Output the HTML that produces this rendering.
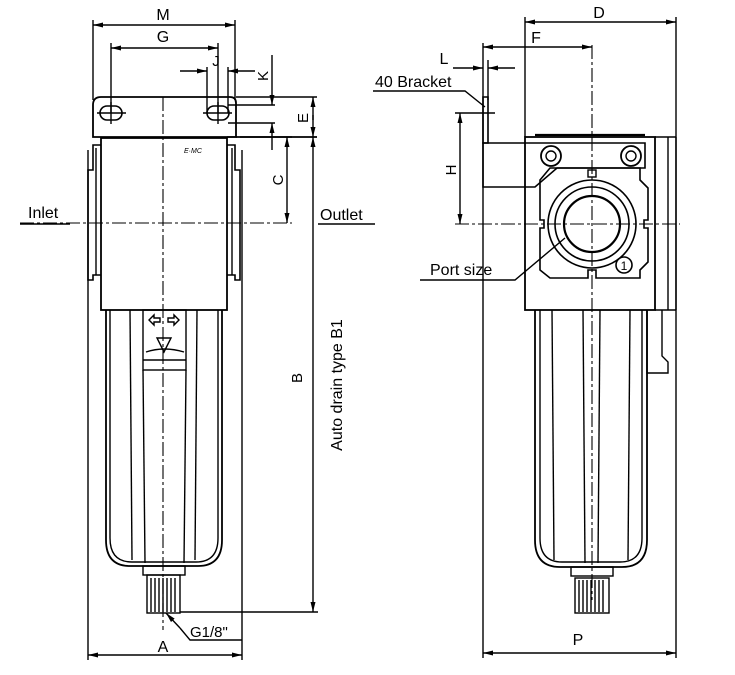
<!DOCTYPE html>
<html><head><meta charset="utf-8"><style>
html,body{margin:0;padding:0;background:#fff;}
svg{display:block}
text{font-family:"Liberation Sans",Arial,sans-serif;fill:#000}
</style></head><body>
<svg width="735" height="675" viewBox="0 0 735 675" xmlns="http://www.w3.org/2000/svg">
<defs>
<marker id="a" viewBox="0 0 10 6" refX="10" refY="3" markerWidth="10" markerHeight="6" orient="auto-start-reverse" markerUnits="userSpaceOnUse"><path d="M0,0.5 L10,3 L0,5.5 z" fill="#000"/></marker>
</defs>
<g stroke="#000" fill="none" stroke-width="1.4">
<!-- ===== LEFT VIEW ===== -->
<line x1="93" y1="20" x2="93" y2="100"/><line x1="235" y1="20" x2="235" y2="100"/>
<line x1="93" y1="25" x2="235" y2="25" marker-start="url(#a)" marker-end="url(#a)"/>
<line x1="111" y1="43" x2="111" y2="113"/><line x1="218" y1="43" x2="218" y2="113"/>
<line x1="111" y1="48" x2="218" y2="48" marker-start="url(#a)" marker-end="url(#a)"/>
<line x1="207" y1="67" x2="207" y2="113"/><line x1="228" y1="67" x2="228" y2="113"/>
<line x1="180" y1="71" x2="207" y2="71" marker-end="url(#a)"/>
<line x1="255" y1="71" x2="228" y2="71" marker-end="url(#a)"/>
<line x1="272" y1="55" x2="272" y2="105" marker-end="url(#a)"/>
<line x1="272" y1="150" x2="272" y2="123" marker-end="url(#a)"/>
<line x1="228" y1="105" x2="275" y2="105"/><line x1="228" y1="123" x2="275" y2="123"/>
<path d="M101,97 H230 Q236,97 236,103 V137 H93 V105 Q93,97 101,97 Z" stroke-width="1.8"/>
<rect x="100" y="106" width="22" height="14" rx="7" stroke-width="1.6"/>
<rect x="207" y="106" width="22" height="14" rx="7" stroke-width="1.6"/>
<line x1="111" y1="102" x2="111" y2="124"/><line x1="97" y1="113" x2="126" y2="113"/>
<line x1="218" y1="102" x2="218" y2="124"/><line x1="203" y1="113" x2="232" y2="113"/>
<line x1="236" y1="97" x2="317" y2="97"/><line x1="236" y1="137" x2="317" y2="137"/>
<line x1="313" y1="120" x2="313" y2="97" marker-end="url(#a)"/>
<line x1="313" y1="115" x2="313" y2="137" marker-end="url(#a)"/>
<rect x="101" y="138" width="126" height="172" stroke-width="1.8"/>
<path d="M101,145 H93 V170 H88 V280 H93 V275 H101" stroke-width="1.6"/>
<path d="M227,145 H235 V170 H240 V280 H235 V275 H227" stroke-width="1.6"/>
<line x1="96" y1="148" x2="96" y2="275"/><line x1="232" y1="148" x2="232" y2="275"/>
<line x1="240" y1="137" x2="292" y2="137"/>
<line x1="287" y1="137" x2="287" y2="223" marker-start="url(#a)" marker-end="url(#a)"/>
<line x1="20" y1="223" x2="292" y2="223" stroke-dasharray="14,3,3,3" stroke-width="1.1"/>
<line x1="163" y1="97" x2="163" y2="630" stroke-dasharray="14,3,3,3" stroke-width="1.1"/>
<line x1="20" y1="224" x2="70" y2="224"/><line x1="318" y1="224" x2="375" y2="224"/>
<path d="M106,310 V540 Q106,566 130,566 H198 Q222,566 222,540 V310" stroke-width="1.8"/>
<path d="M110,310 V538 Q110,562 132,562 H196 Q218,562 218,538 V310"/>
<line x1="130" y1="310" x2="132" y2="560"/><line x1="197" y1="310" x2="195" y2="560"/>
<line x1="143" y1="370" x2="145" y2="563"/><line x1="186" y1="370" x2="184" y2="563"/>
<rect x="143" y="310" width="43" height="60"/>
<line x1="143" y1="360" x2="186" y2="360"/>
<path d="M146,352 Q164,346 184,352"/>
<path d="M149,320 L154,315 V318 H160 V322 H154 V325 Z M179,320 L174,315 V318 H168 V322 H174 V325 Z"/>
<path d="M157,338 L171,338 L164,352 Z"/>
<rect x="143" y="566" width="42" height="9"/>
<rect x="147" y="575" width="33" height="38"/>
<path d="M151,578 V612 M155,578 V612 M159,578 V612 M163,578 V612 M167,578 V612 M171,578 V612 M175,578 V612"/>
<line x1="227" y1="137" x2="317" y2="137"/>
<line x1="180" y1="612" x2="318" y2="612"/>
<line x1="313" y1="137" x2="313" y2="612" marker-start="url(#a)" marker-end="url(#a)"/>
<line x1="88" y1="150" x2="88" y2="660"/><line x1="242" y1="150" x2="242" y2="660"/>
<line x1="88" y1="655" x2="242" y2="655" marker-start="url(#a)" marker-end="url(#a)"/>
<path d="M242,640 H190 L180,628"/>
<line x1="180" y1="628" x2="166" y2="613" marker-end="url(#a)"/>

<!-- ===== RIGHT VIEW ===== -->
<line x1="525" y1="17" x2="525" y2="137"/><line x1="676" y1="17" x2="676" y2="320"/>
<line x1="525" y1="22" x2="676" y2="22" marker-start="url(#a)" marker-end="url(#a)"/>
<line x1="483" y1="43" x2="483" y2="143"/>
<line x1="483" y1="47" x2="592" y2="47" marker-start="url(#a)" marker-end="url(#a)"/>
<line x1="592" y1="45" x2="592" y2="600" stroke-dasharray="14,3,3,3" stroke-width="1.1"/>
<line x1="488" y1="60" x2="488" y2="100"/>
<line x1="453" y1="68" x2="483" y2="68" marker-end="url(#a)"/>
<line x1="515" y1="68" x2="488" y2="68" marker-end="url(#a)"/>
<path d="M373,91 H465 L485,107"/>
<path d="M483,97 H488 V143 H483 Z" stroke-width="1.6"/>
<path d="M483,143 H645 V168 H557 L535,187 H483 Z" stroke-width="1.6"/>
<line x1="455" y1="113" x2="495" y2="113"/>
<line x1="460" y1="113" x2="460" y2="224" marker-start="url(#a)" marker-end="url(#a)"/>
<line x1="455" y1="224" x2="680" y2="224" stroke-dasharray="14,3,3,3" stroke-width="1.1"/>
<rect x="525" y="137" width="130" height="173" stroke-width="1.8"/>
<line x1="655" y1="137" x2="676" y2="137"/><line x1="655" y1="310" x2="676" y2="310"/>
<line x1="668" y1="137" x2="668" y2="310"/><line x1="676" y1="137" x2="676" y2="310"/>
<line x1="535" y1="135" x2="645" y2="135" stroke-width="2.2"/>
<circle cx="551" cy="156" r="10" stroke-width="1.8"/><circle cx="551" cy="156" r="5"/>
<circle cx="631" cy="156" r="10" stroke-width="1.8"/><circle cx="631" cy="156" r="5"/>
<path d="M550,168 H640 V180 L648,188 V220 H644 V228 H648 V262 L640,270 V278 H596 V270 H588 V278 H550 L540,270 V228 H544 V220 H540 V180 Z" stroke-width="1.6"/>
<rect x="588" y="170" width="8" height="7"/>
<circle cx="592" cy="224" r="44" stroke-width="1.6"/>
<circle cx="592" cy="224" r="37" stroke-width="1.6"/>
<circle cx="592" cy="224" r="28" stroke-width="2.2"/>
<circle cx="624" cy="265" r="8" stroke-width="1.6"/>
<path d="M420,280 H515 L565,238"/>
<path d="M535,310 V540 Q535,567 560,567 H622 Q647,567 647,540 V310" stroke-width="1.8"/>
<path d="M540,310 V538 Q540,562 562,562 H620 Q642,562 642,538 V310"/>
<line x1="552" y1="310" x2="554" y2="560"/><line x1="630" y1="310" x2="628" y2="560"/>
<line x1="583" y1="310" x2="585" y2="563"/><line x1="600" y1="310" x2="598" y2="563"/>
<path d="M647,310 V373 H668 V362 L662,356 V310"/>
<rect x="571" y="567" width="42" height="9"/>
<rect x="575" y="578" width="34" height="35"/>
<path d="M579,580 V612 M583,580 V612 M587,580 V612 M591,580 V612 M595,580 V612 M599,580 V612 M603,580 V612"/>
<line x1="483" y1="143" x2="483" y2="658"/><line x1="676" y1="320" x2="676" y2="658"/>
<line x1="483" y1="653" x2="676" y2="653" marker-start="url(#a)" marker-end="url(#a)"/>
</g>
<g font-size="16">
<text x="163" y="20" text-anchor="middle">M</text>
<text x="163" y="42" text-anchor="middle">G</text>
<text x="216" y="66" text-anchor="middle" font-size="15">J</text>
<text x="28" y="218">Inlet</text>
<text x="320" y="220">Outlet</text>
<text x="599" y="18" text-anchor="middle">D</text>
<text x="536" y="43" text-anchor="middle">F</text>
<text x="444" y="64" text-anchor="middle">L</text>
<text x="375" y="87">40 Bracket</text>
<text x="430" y="275">Port size</text>
<text x="163" y="652" text-anchor="middle">A</text>
<text x="578" y="645" text-anchor="middle">P</text>
<text x="190" y="637" font-size="15">G1/8"</text>
<text transform="translate(268,76) rotate(-90)" text-anchor="middle" font-size="15">K</text>
<text transform="translate(308,118) rotate(-90)" text-anchor="middle" font-size="15">E</text>
<text transform="translate(283,180) rotate(-90)" text-anchor="middle" font-size="15">C</text>
<text transform="translate(456,170) rotate(-90)" text-anchor="middle" font-size="15">H</text>
<text transform="translate(302,378) rotate(-90)" text-anchor="middle" font-size="15">B</text>
<text transform="translate(342,385) rotate(-90)" text-anchor="middle">Auto drain type B1</text>
<text x="624" y="270" text-anchor="middle" font-size="12">1</text>
<text x="184" y="153" font-size="7" font-style="italic" font-family="Liberation Serif">E·MC</text>
</g>
</svg>
</body></html>
